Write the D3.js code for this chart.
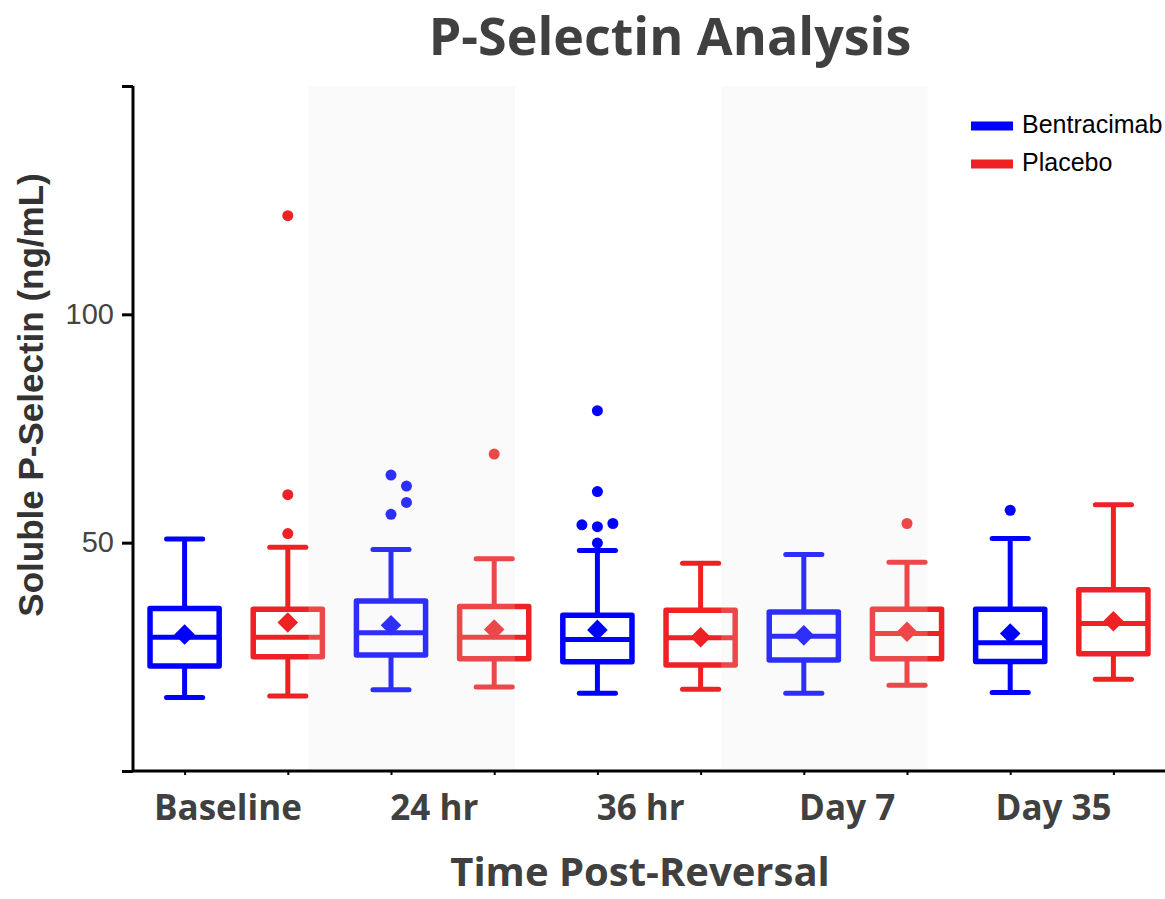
<!DOCTYPE html>
<html>
<head>
<meta charset="utf-8">
<script src="https://cdn.jsdelivr.net/npm/d3@7"></script>
<style>
  body { margin: 0; background: #fff; }
  svg { display: block; }
</style>
</head>
<body>
<div id="chart"></div>
<script>
// box plot data
var groups = ["Baseline", "24 hr", "36 hr", "Day 7", "Day 35"];
var seriesNames = ["Bentracimab", "Placebo"];
var shadedGroups = ["24 hr", "Day 7"];
var yTicks = [0, 50, 100, 150];
var yTickLabels = ["", "50", "100", ""];

var bentLow    = [16.1, 17.8, 17.0, 17.0, 17.2];
var bentQ1     = [23.0, 25.4, 23.9, 24.3, 24.0];
var bentMedian = [29.3, 30.3, 28.8, 29.5, 28.1];
var bentQ3     = [35.6, 37.2, 34.1, 34.8, 35.4];
var bentHigh   = [50.8, 48.5, 48.3, 47.4, 50.9];
var bentMean   = [29.9, 31.9, 30.9, 29.7, 30.1];
var bentOut    = [[], [64.8, 62.4, 58.8, 56.2], [78.9, 61.2, 53.9, 53.5, 54.2, 49.9], [], [57.1]];
var bentOutDx  = [[], [0, 0.15, 0.15, 0], [0, 0, -0.15, 0, 0.15, 0], [], [0]];

var placLow    = [16.4, 18.4, 17.9, 18.8, 20.1];
var placQ1     = [25.0, 24.6, 23.2, 24.6, 25.7];
var placMedian = [29.3, 29.3, 29.2, 30.1, 32.3];
var placQ3     = [35.4, 36.0, 35.2, 35.4, 39.7];
var placHigh   = [49.0, 46.5, 45.5, 45.7, 58.3];
var placMean   = [32.5, 31.0, 29.3, 30.5, 32.8];
var placOut    = [[121.6, 60.5, 52.0], [69.4], [], [54.2], []];

var colors = {"Bentracimab": "#0000ff", "Placebo": "#ee2124"};

var W = 1165, H = 899;
var svg = d3.select("#chart").append("svg")
    .attr("width", W).attr("height", H);

// x is a continuous position: box k sits at k (blue = 2g, red = 2g+1)
var x = d3.scaleLinear().domain([-0.5, 9.5]).range([133, 1165]);
var y = d3.scaleLinear().domain([0, 150]).range([771, 86]);

var boxes = [];
groups.forEach(function(g, i) {
  boxes.push({group: g, s: "Bentracimab", pos: 2*i, low: bentLow[i], q1: bentQ1[i], med: bentMedian[i],
              q3: bentQ3[i], high: bentHigh[i], mean: bentMean[i], out: bentOut[i], dx: bentOutDx[i]});
  boxes.push({group: g, s: "Placebo", pos: 2*i+1, low: placLow[i], q1: placQ1[i], med: placMedian[i],
              q3: placQ3[i], high: placHigh[i], mean: placMean[i], out: placOut[i], dx: []});
});

var boxW = x(0.67) - x(0);
var capW = x(0.35) - x(0);
var sw = 5;

var plot = svg.append("g");
var b = plot.selectAll("g.box").data(boxes).enter().append("g").attr("class", "box");

// whiskers
b.append("line")
  .attr("x1", function(d) { return x(d.pos); }).attr("x2", function(d) { return x(d.pos); })
  .attr("y1", function(d) { return y(d.high); }).attr("y2", function(d) { return y(d.q3); })
  .attr("stroke", function(d) { return colors[d.s]; }).attr("stroke-width", sw);
b.append("line")
  .attr("x1", function(d) { return x(d.pos); }).attr("x2", function(d) { return x(d.pos); })
  .attr("y1", function(d) { return y(d.q1); }).attr("y2", function(d) { return y(d.low); })
  .attr("stroke", function(d) { return colors[d.s]; }).attr("stroke-width", sw);
// caps
["high", "low"].forEach(function(k) {
  b.append("line")
    .attr("x1", function(d) { return x(d.pos) - capW/2; }).attr("x2", function(d) { return x(d.pos) + capW/2; })
    .attr("y1", function(d) { return y(d[k]); }).attr("y2", function(d) { return y(d[k]); })
    .attr("stroke", function(d) { return colors[d.s]; }).attr("stroke-width", sw)
    .attr("stroke-linecap", "round");
});
// box
b.append("rect")
  .attr("x", function(d) { return x(d.pos) - boxW/2; })
  .attr("width", boxW)
  .attr("y", function(d) { return y(d.q3); })
  .attr("height", function(d) { return y(d.q1) - y(d.q3); })
  .attr("fill", "none")
  .attr("stroke", function(d) { return colors[d.s]; }).attr("stroke-width", sw + 0.5)
  .attr("stroke-linejoin", "round");
// median
b.append("line")
  .attr("x1", function(d) { return x(d.pos) - boxW/2; }).attr("x2", function(d) { return x(d.pos) + boxW/2; })
  .attr("y1", function(d) { return y(d.med); }).attr("y2", function(d) { return y(d.med); })
  .attr("stroke", function(d) { return colors[d.s]; }).attr("stroke-width", sw);
// mean diamond
b.append("path")
  .attr("d", d3.symbol().type(d3.symbolDiamond2).size(270))
  .attr("transform", function(d) { return "translate(" + x(d.pos) + "," + y(d.mean) + ")"; })
  .attr("fill", function(d) { return colors[d.s]; });
// outliers
b.each(function(d) {
  d3.select(this).selectAll("circle").data(d.out).enter().append("circle")
    .attr("cx", function(v, j) { return x(d.pos + (d.dx[j] || 0)); })
    .attr("cy", function(v) { return y(v); })
    .attr("r", 5.5)
    .attr("fill", colors[d.s]);
});

// shaded columns drawn on top, slightly fading the marks below
plot.selectAll("rect.band").data(shadedGroups).enter().append("rect")
  .attr("class", "band")
  .attr("x", function(g) { return x(2*groups.indexOf(g) - 0.8); })
  .attr("width", x(2) - x(0))
  .attr("y", y(150))
  .attr("height", y(0) - y(150) - 2)
  .attr("fill", "rgb(230,230,230)")
  .attr("opacity", 0.2);

// y axis
var yAxis = d3.axisLeft(y).tickValues(yTicks).tickSize(11)
  .tickFormat(function(d, i) { return yTickLabels[i]; });
var ya = svg.append("g").attr("transform", "translate(133,0)").call(yAxis);
ya.select(".domain").attr("stroke", "#000").attr("stroke-width", 3)
  .attr("d", "M0," + y(150) + "V" + y(0));
ya.selectAll(".tick line").attr("stroke", "#000").attr("stroke-width", 3);
ya.selectAll(".tick text").attr("font-family", "Liberation Sans, Arial, sans-serif")
  .attr("font-size", 29).attr("fill", "#444").attr("x", -19);

// x axis
var xAxis = d3.axisBottom(x).tickValues(d3.range(10)).tickSize(4).tickFormat("");
var xa = svg.append("g").attr("transform", "translate(0," + y(0) + ")").call(xAxis);
xa.select(".domain").attr("stroke", "#000").attr("stroke-width", 3)
  .attr("d", "M" + x(-0.5) + ",0H" + x(9.5));
xa.selectAll(".tick line").attr("stroke", "#000").attr("stroke-width", 2);

// group labels
svg.selectAll("text.grp").data(groups).enter().append("text")
  .attr("class", "grp")
  .attr("x", function(g, i) { return x(2*i + 0.42); })
  .attr("y", 820)
  .attr("text-anchor", "middle")
  .attr("font-family", "Open Sans, sans-serif").attr("font-weight", "bold")
  .attr("font-size", 35).attr("fill", "#404040")
  .text(function(g) { return g; });

// titles
svg.append("text").attr("x", 670).attr("y", 55).attr("text-anchor", "middle")
  .attr("font-family", "Open Sans, sans-serif").attr("font-weight", "bold")
  .attr("font-size", 52).attr("fill", "#404040").text("P-Selectin Analysis");
svg.append("text").attr("x", 640).attr("y", 886).attr("text-anchor", "middle")
  .attr("font-family", "Open Sans, sans-serif").attr("font-weight", "bold")
  .attr("font-size", 40).attr("fill", "#404040").text("Time Post-Reversal");
svg.append("text").attr("transform", "translate(43,395) rotate(-90)").attr("text-anchor", "middle")
  .attr("font-family", "Liberation Sans, Arial, sans-serif").attr("font-weight", "bold")
  .attr("font-size", 35).attr("fill", "#333").text("Soluble P-Selectin (ng/mL)");

// legend
var leg = svg.selectAll("g.leg").data(seriesNames).enter().append("g")
  .attr("class", "leg")
  .attr("transform", function(s, i) { return "translate(971," + (126 + i*38) + ")"; });
leg.append("line").attr("x1", 0).attr("x2", 42).attr("y1", 0).attr("y2", 0)
  .attr("stroke", function(s) { return colors[s]; }).attr("stroke-width", 9);
leg.append("text").attr("x", 51).attr("y", 7)
  .attr("font-family", "Liberation Sans, Arial, sans-serif").attr("font-size", 25)
  .attr("fill", "#000").text(function(s) { return s; });
</script>
</body>
</html>
